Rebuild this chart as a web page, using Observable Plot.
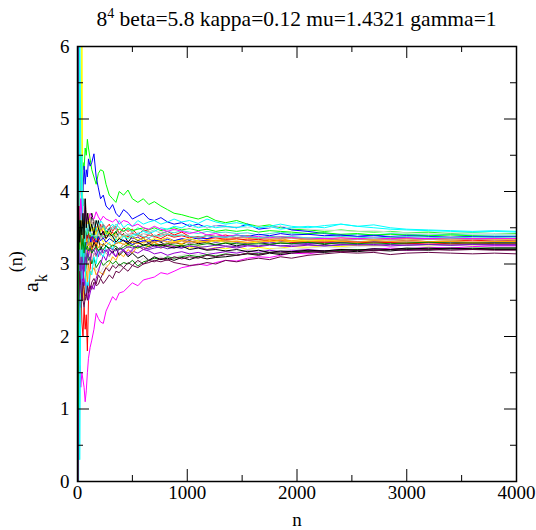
<!DOCTYPE html>
<html><head><meta charset="utf-8">
<script src="https://cdn.jsdelivr.net/npm/d3@7"></script>
<script src="https://cdn.jsdelivr.net/npm/@observablehq/plot@0.6"></script>
<style>body{margin:0;background:#fff} #chart svg, #chart svg text, #chart svg tspan{font-family:"Liberation Serif" !important}</style>
</head><body><div id="chart"></div>
<script>
const N = [0,5,10,15,20,30,40,50,60,70, 80,90,100,115,130,150,170,190,210,235, 260,290,320,350,380,420,460,500,550,600, 650,700,760,820,880,950,1020,1100,1180,1260, 1350,1450,1550,1650,1750,1850,1950,2100,2250,2400, 2550,2700,2850,3000,3200,3400,3600,3800,4000];

const s00 = [6.5,2.0,4.5,3.2,3.0,3.8,3.3,3.6,3.2,3.7, 3.5,3.4,3.65,3.45,3.7,3.55,3.4,3.6,3.45,3.55, 3.4,3.5,3.38,3.45,3.35,3.42,3.3,3.38,3.32,3.36, 3.28,3.33,3.3,3.25,3.3,3.27,3.32,3.28,3.3,3.26, 3.29,3.25,3.28,3.3,3.27,3.29,3.28,3.3,3.27,3.3, 3.29,3.31,3.3,3.28,3.3,3.31,3.29,3.3,3.3];
const s01 = [0,5.5,1.6,2.6,2.3,2.8,2.2,2.0,2.4,2.1, 2.3,1.8,2.5,2.9,3.3,3.5,3.2,3.45,3.55,3.4, 3.5,3.55,3.45,3.52,3.42,3.5,3.45,3.48,3.4,3.47, 3.45,3.38,3.42,3.45,3.4,3.44,3.38,3.35,3.4,3.38, 3.4,3.36,3.39,3.35,3.38,3.37,3.36,3.34,3.35,3.33, 3.35,3.33,3.34,3.32,3.34,3.33,3.32,3.33,3.32];
const s02 = [7,3.0,4.0,4.3,4.1,4.5,4.2,4.4,4.3,4.6, 4.5,4.72,4.6,4.45,4.3,4.2,4.1,4.25,4.3,4.28, 4.1,3.95,3.9,3.85,4.0,3.95,4.02,3.9,3.85,3.9, 3.82,3.86,3.8,3.75,3.7,3.68,3.65,3.62,3.66,3.6, 3.57,3.6,3.55,3.52,3.54,3.5,3.48,3.47,3.45,3.47, 3.45,3.44,3.45,3.43,3.44,3.42,3.43,3.42,3.42];
const s03 = [6.2,1.0,3.5,3.9,4.3,3.8,4.2,4.0,4.35,4.1, 4.3,4.2,4.45,4.35,4.4,4.52,4.2,4.05,3.9,3.95, 3.8,3.75,3.82,3.7,3.65,3.75,3.7,3.62,3.66,3.7, 3.62,3.6,3.64,3.58,3.55,3.57,3.52,3.55,3.5,3.53, 3.52,3.5,3.55,3.48,3.5,3.52,3.47,3.45,3.42,3.4, 3.38,3.4,3.37,3.36,3.35,3.36,3.35,3.36,3.35];
const s04 = [5.8,0.5,2.5,3.0,2.8,3.3,6.5,3.0,3.4,3.2, 3.0,3.3,3.1,3.4,3.25,3.5,3.3,3.55,3.4,3.3, 3.35,3.45,3.3,3.38,3.28,3.33,3.25,3.3,3.22,3.28, 3.25,3.3,3.22,3.26,3.24,3.27,3.22,3.25,3.2,3.23, 3.21,3.24,3.2,3.23,3.21,3.22,3.24,3.23,3.25,3.24, 3.26,3.25,3.27,3.26,3.25,3.27,3.26,3.27,3.26];
const s05 = [4,6.2,3.5,3.9,3.6,3.3,3.1,3.0,2.8,3.0, 2.9,3.05,2.95,3.1,3.0,3.15,3.1,3.2,3.12,3.18, 3.15,3.1,3.2,3.25,3.2,3.28,3.22,3.26,3.3,3.25, 3.28,3.3,3.26,3.3,3.28,3.32,3.28,3.3,3.33,3.3, 3.32,3.3,3.33,3.31,3.34,3.32,3.3,3.32,3.31,3.33, 3.31,3.3,3.32,3.31,3.3,3.31,3.3,3.31,3.3];
const s06 = [2,6,4.0,3.9,4.0,3.5,3.2,3.0,2.9,2.8, 2.85,2.95,2.8,2.9,2.95,3.0,2.9,2.95,2.88,2.95, 3.0,2.92,2.96,3.0,2.95,3.02,3.0,3.05,3.02,3.08, 3.05,3.08,3.1,3.06,3.1,3.12,3.15,3.12,3.16,3.14, 3.18,3.16,3.2,3.18,3.2,3.22,3.2,3.22,3.24,3.22, 3.24,3.25,3.24,3.26,3.25,3.26,3.25,3.26,3.26];
const s07 = [6.5,0,2.5,2.7,2.4,2.5,2.9,2.7,3.1,3.3, 3.0,3.2,3.1,3.25,3.15,3.3,3.2,3.1,3.22,3.15, 3.2,3.12,3.18,3.1,3.15,3.2,3.12,3.18,3.15,3.2, 3.18,3.14,3.16,3.12,3.15,3.17,3.14,3.16,3.13,3.15, 3.17,3.15,3.18,3.16,3.19,3.17,3.18,3.2,3.18,3.2, 3.19,3.21,3.2,3.19,3.2,3.21,3.2,3.2,3.2];
const s08 = [6.5,0,6.5,0.5,6.5,4.5,2.8,3.8,3.2,3.6, 3.4,3.5,3.3,3.45,3.35,3.4,3.5,3.45,3.6,3.55, 3.45,3.5,3.55,3.48,3.6,3.5,3.55,3.52,3.6,3.55, 3.58,3.6,3.55,3.58,3.62,3.58,3.6,3.56,3.62,3.58, 3.55,3.57,3.54,3.5,3.52,3.55,3.52,3.5,3.53,3.55, 3.52,3.54,3.5,3.48,3.47,3.46,3.45,3.46,3.45];
const s09 = [5,0,1.5,1.2,1.6,1.3,1.5,1.4,1.3,1.1, 1.25,1.5,1.7,1.85,1.95,2.1,2.32,2.25,2.2,2.18, 2.35,2.45,2.55,2.5,2.6,2.62,2.68,2.74,2.7,2.78, 2.8,2.82,2.88,2.86,2.9,2.95,2.97,3.0,2.98,3.02, 3.05,3.04,3.08,3.1,3.09,3.12,3.15,3.14,3.17,3.2, 3.19,3.2,3.22,3.21,3.23,3.22,3.24,3.25,3.25];
const s10 = [3,6.5,2.0,2.5,2.2,2.6,2.5,2.7,2.5,2.8, 2.9,2.75,3.0,2.85,2.9,2.95,2.85,2.9,2.88,2.85, 2.95,3.0,3.1,3.05,3.15,3.1,3.2,3.15,3.25,3.2, 3.25,3.3,3.25,3.28,3.3,3.28,3.32,3.3,3.34,3.32, 3.35,3.33,3.35,3.36,3.34,3.35,3.32,3.35,3.34,3.36, 3.35,3.34,3.36,3.35,3.34,3.36,3.35,3.35,3.35];
const s11 = [6.5,1,3.0,3.4,3.8,4.0,3.6,3.9,3.5,3.7, 3.5,3.6,3.4,3.5,3.3,3.45,3.4,3.5,3.35,3.45, 3.4,3.45,3.38,3.42,3.35,3.4,3.38,3.35,3.37,3.32, 3.35,3.3,3.33,3.36,3.32,3.34,3.3,3.33,3.32,3.3, 3.32,3.3,3.28,3.3,3.29,3.31,3.3,3.28,3.3,3.29, 3.3,3.31,3.3,3.29,3.3,3.3,3.29,3.3,3.3];
const s12 = [0,5,2.0,2.3,2.5,2.4,2.6,2.5,2.4,2.55, 2.6,2.5,2.62,2.7,2.65,2.75,2.7,2.72,2.8,2.73, 2.78,2.85,2.8,2.9,2.88,2.95,2.9,2.98,2.95,3.0, 3.02,3.05,3.03,3.06,3.02,3.0,2.98,2.99,3.02,3.0, 3.05,3.03,3.06,3.08,3.06,3.1,3.08,3.12,3.14,3.16, 3.15,3.16,3.13,3.15,3.16,3.15,3.14,3.15,3.14];
const s13 = [5,2,4.5,3.8,4.2,3.5,3.7,3.9,3.6,3.75, 3.5,3.65,3.6,3.55,3.45,3.5,3.6,3.55,3.48,3.52, 3.45,3.5,3.48,3.55,3.5,3.45,3.48,3.44,3.5,3.46, 3.44,3.47,3.42,3.45,3.43,3.46,3.44,3.42,3.45,3.43, 3.44,3.42,3.43,3.4,3.42,3.44,3.42,3.41,3.43,3.4, 3.41,3.4,3.42,3.41,3.4,3.41,3.4,3.4,3.4];
const s14 = [6.5,0.5,2.8,3.2,3.0,2.8,3.0,3.2,3.1,2.9, 3.0,3.15,3.05,3.1,3.0,3.08,2.95,3.0,3.05,2.98, 3.02,3.05,3.0,3.04,2.98,3.02,3.0,3.05,2.97,3.03, 3.05,3.08,3.06,3.1,3.08,3.1,3.12,3.1,3.13,3.11, 3.14,3.12,3.15,3.14,3.16,3.15,3.17,3.18,3.17,3.19, 3.2,3.19,3.2,3.21,3.22,3.21,3.22,3.22,3.22];
const s15 = [6.5,3.5,4.0,3.5,3.7,3.4,3.5,3.3,3.6,3.4, 3.45,3.3,3.5,3.35,3.2,3.3,3.25,3.35,3.2,3.28, 3.25,3.2,3.15,3.22,3.12,3.18,3.1,3.15,3.08,3.12, 3.05,3.1,3.06,3.08,3.05,3.09,3.06,3.1,3.07,3.09, 3.1,3.12,3.14,3.12,3.15,3.13,3.15,3.17,3.16,3.18, 3.17,3.19,3.18,3.2,3.19,3.21,3.2,3.2,3.2];
const s16 = [4,6.5,3.5,3.1,3.4,3.6,3.3,3.5,3.25,3.45, 3.35,3.3,3.45,3.35,3.4,3.3,3.38,3.32,3.42,3.35, 3.4,3.38,3.44,3.36,3.42,3.4,3.38,3.42,3.4,3.36, 3.4,3.38,3.35,3.4,3.37,3.39,3.36,3.38,3.35,3.36, 3.34,3.35,3.33,3.34,3.32,3.33,3.3,3.31,3.3,3.32, 3.3,3.29,3.3,3.28,3.29,3.28,3.29,3.28,3.28];
const s17 = [0,6,3.2,3.5,3.3,3.6,3.4,3.55,3.45,3.35, 3.5,3.4,3.45,3.38,3.42,3.35,3.4,3.36,3.42,3.38, 3.45,3.42,3.4,3.45,3.48,3.45,3.5,3.46,3.48,3.5, 3.47,3.5,3.46,3.48,3.5,3.47,3.49,3.46,3.48,3.45, 3.47,3.45,3.47,3.44,3.46,3.45,3.44,3.42,3.43,3.41, 3.42,3.4,3.41,3.4,3.39,3.4,3.39,3.38,3.38];
const s18 = [6.5,2,3.2,3.6,3.4,3.2,3.35,3.5,3.3,3.2, 3.28,3.35,3.25,3.3,3.4,3.35,3.3,3.38,3.32,3.36, 3.3,3.35,3.32,3.28,3.3,3.33,3.3,3.27,3.3,3.32, 3.3,3.33,3.31,3.34,3.32,3.35,3.33,3.36,3.35,3.38, 3.37,3.4,3.38,3.41,3.39,3.42,3.4,3.41,3.39,3.4, 3.38,3.39,3.38,3.39,3.38,3.37,3.38,3.38,3.38];
const s19 = [6.5,0,3.0,3.6,3.2,3.5,3.9,3.6,3.7,3.55, 3.6,3.5,3.7,3.55,3.45,3.5,3.4,3.55,3.45,3.5, 3.4,3.45,3.38,3.42,3.35,3.4,3.36,3.38,3.33,3.35, 3.32,3.35,3.33,3.36,3.31,3.33,3.35,3.32,3.3,3.32, 3.3,3.31,3.29,3.3,3.32,3.3,3.31,3.33,3.32,3.33, 3.34,3.33,3.34,3.33,3.34,3.33,3.34,3.34,3.34];
const s20 = [6.5,1,3.8,4.1,3.9,4.0,3.85,3.7,3.8,3.9, 3.75,3.6,3.7,3.65,3.55,3.6,3.5,3.55,3.48,3.55, 3.5,3.45,3.52,3.48,3.42,3.46,3.4,3.44,3.38,3.42, 3.4,3.37,3.4,3.42,3.38,3.4,3.38,3.36,3.39,3.37, 3.38,3.36,3.37,3.35,3.36,3.35,3.36,3.34,3.35,3.33, 3.34,3.33,3.34,3.33,3.34,3.33,3.34,3.33,3.33];
const s21 = [6.5,2,4.3,3.8,4.0,3.9,3.7,3.6,3.8,3.5, 3.45,3.55,3.5,3.4,3.45,3.42,3.38,3.45,3.35,3.4, 3.36,3.38,3.35,3.4,3.37,3.4,3.42,3.4,3.44,3.42, 3.44,3.46,3.44,3.48,3.46,3.5,3.48,3.52,3.5,3.53, 3.5,3.52,3.5,3.53,3.5,3.52,3.5,3.48,3.47,3.46, 3.45,3.46,3.44,3.43,3.42,3.43,3.42,3.42,3.41];
const s22 = [6.5,0.5,2.7,3.0,2.6,2.8,3.0,2.9,2.7,2.8, 2.6,2.75,2.5,2.6,2.7,2.65,2.8,2.9,3.0,3.12, 3.05,3.2,3.15,3.1,3.22,3.18,3.15,3.2,3.25,3.2, 3.22,3.25,3.22,3.26,3.24,3.22,3.25,3.23,3.2,3.22, 3.24,3.22,3.25,3.24,3.26,3.25,3.24,3.26,3.25,3.27, 3.26,3.27,3.25,3.26,3.27,3.26,3.27,3.26,3.26];
const s23 = [0,6.5,0,6.5,0.3,2.5,4.5,3.0,3.5,3.0, 2.6,2.75,2.7,2.9,2.85,3.1,3.0,3.2,3.15,3.1, 3.25,3.3,3.2,3.35,3.3,3.38,3.35,3.4,3.42,3.45, 3.42,3.45,3.5,3.48,3.52,3.5,3.55,3.5,3.53,3.5, 3.52,3.5,3.53,3.5,3.52,3.48,3.5,3.52,3.5,3.55, 3.52,3.5,3.48,3.47,3.46,3.45,3.44,3.45,3.44];
const s24 = [6.5,1,3.5,3.8,3.6,3.9,3.7,3.5,3.6,3.8, 3.55,3.65,3.6,3.7,3.65,3.62,3.72,3.65,3.6,3.66, 3.62,3.6,3.58,3.62,3.55,3.6,3.58,3.52,3.55,3.5, 3.48,3.52,3.48,3.45,3.48,3.45,3.42,3.45,3.4,3.42, 3.38,3.4,3.37,3.38,3.36,3.38,3.37,3.36,3.35,3.36, 3.35,3.36,3.35,3.36,3.35,3.36,3.35,3.35,3.35];
const s25 = [6.5,2,4.0,3.3,3.0,3.4,3.6,3.3,3.5,3.4, 3.3,3.35,3.25,3.3,3.2,3.25,3.3,3.22,3.28,3.25, 3.3,3.27,3.25,3.28,3.3,3.27,3.29,3.3,3.28,3.3, 3.31,3.3,3.32,3.31,3.3,3.32,3.31,3.3,3.31,3.33, 3.32,3.31,3.3,3.32,3.31,3.33,3.32,3.31,3.32,3.31, 3.3,3.32,3.31,3.3,3.31,3.31,3.3,3.31,3.31];
const s26 = [0,6.5,2.2,2.8,3.2,2.9,3.1,3.0,2.9,3.1, 3.0,3.15,3.1,3.05,3.15,3.2,3.12,3.18,3.15,3.2, 3.17,3.22,3.2,3.18,3.22,3.2,3.24,3.22,3.25,3.23, 3.2,3.22,3.24,3.21,3.23,3.22,3.25,3.23,3.24,3.26, 3.25,3.24,3.26,3.25,3.27,3.25,3.26,3.27,3.25,3.26, 3.27,3.26,3.27,3.26,3.27,3.26,3.27,3.27,3.27];
const s27 = [6.5,0,2.4,2.6,2.9,2.7,2.5,2.75,2.65,2.5, 2.55,2.7,2.6,2.65,2.75,2.8,2.72,2.85,2.8,2.88, 2.95,2.9,2.98,2.94,3.0,2.95,3.02,2.98,3.05,3.0, 3.05,3.03,3.08,3.05,3.1,3.07,3.1,3.08,3.12,3.1, 3.13,3.12,3.15,3.13,3.16,3.15,3.17,3.16,3.18,3.17, 3.19,3.18,3.2,3.19,3.2,3.19,3.2,3.19,3.19];
const s28 = [6.5,2,3.0,3.6,3.3,3.1,3.4,3.6,3.45,3.3, 3.5,3.4,3.55,3.45,3.38,3.42,3.35,3.45,3.4,3.36, 3.42,3.38,3.4,3.36,3.42,3.38,3.4,3.37,3.41,3.38, 3.36,3.4,3.38,3.41,3.39,3.4,3.38,3.37,3.39,3.38, 3.37,3.39,3.38,3.36,3.38,3.37,3.38,3.36,3.37,3.38, 3.37,3.36,3.37,3.38,3.37,3.36,3.37,3.37,3.37];
const s29 = [6.5,1,3.5,3.2,3.6,3.4,3.2,3.35,3.15,3.3, 3.2,3.25,3.18,3.22,3.15,3.2,3.25,3.18,3.22,3.2, 3.25,3.22,3.26,3.24,3.2,3.23,3.27,3.25,3.22,3.26, 3.24,3.27,3.25,3.28,3.26,3.25,3.27,3.26,3.28,3.27, 3.29,3.28,3.27,3.28,3.27,3.29,3.28,3.3,3.28,3.29, 3.28,3.29,3.28,3.29,3.3,3.29,3.29,3.29,3.29];
const s30 = [6.5,3,3.8,3.5,3.3,3.6,3.4,3.7,3.35,3.9, 3.5,3.7,3.6,3.45,3.55,3.4,3.6,3.5,3.4,3.45, 3.35,3.42,3.38,3.3,3.35,3.32,3.28,3.32,3.3,3.26, 3.28,3.25,3.27,3.24,3.22,3.25,3.2,3.22,3.19,3.2, 3.18,3.2,3.17,3.19,3.16,3.18,3.17,3.19,3.18,3.2, 3.19,3.21,3.2,3.22,3.21,3.22,3.21,3.22,3.22];

const seriesValues = [s00,s01,s02,s03,s04,s05,s06,s07,s08,s09,s10,s11,s12,s13,s14,s15,s16,s17,s18,s19,s20,s21,s22,s23,s24,s25,s26,s27,s28,s29,s30];
const graceColors = ["#000000","#ff0000","#00ff00","#0000ff","#ffff00","#bc8f8f","#dcdcdc","#9400d3","#00ffff","#ff00ff","#ffa500","#7221bc","#670748","#40e0d0","#008b00"];
const seriesColors = seriesValues.map((_, i) => graceColors[i % graceColors.length]);

const xTicks = [0,1000,2000,3000,4000];
const xMinor = [500,1500,2500,3500];
const yTicks = [0,1,2,3,4,5,6];
const yMinor = [0.5,1.5,2.5,3.5,4.5,5.5];

const titleMain = "8";
const titleSup = "4";
const titleRest = " beta=5.8 kappa=0.12 mu=1.4321 gamma=1";

const rows = seriesValues.flatMap((vals, i) => vals.map((v, j) => ({set: i, n: N[j], a: v})));

const W = 536, H = 530, mL = 77, mR = 20, mT = 46, mB = 49;
const pw = W - mL - mR, ph = H - mT - mB;
const serif = "Liberation Serif";

const chart = Plot.plot({
  width: W, height: H,
  marginLeft: mL, marginRight: mR, marginTop: mT, marginBottom: mB,
  x: {domain: [0, 4000]},
  y: {domain: [0, 6]},
  color: {type: "ordinal", domain: seriesValues.map((_, i) => i), range: seriesColors},
  style: {fontFamily: serif, fontSize: "20px", background: "white", color: "black"},
  marks: [
    Plot.line(rows, {x: "n", y: "a", z: "set", stroke: "set", strokeWidth: 1, clip: true}),
    Plot.tickX(xTicks, {x: d => d, insetTop: ph - 12, stroke: "black"}),
    Plot.tickX(xMinor, {x: d => d, insetTop: ph - 6, stroke: "black"}),
    Plot.tickX(xTicks, {x: d => d, insetBottom: ph - 12, stroke: "black"}),
    Plot.tickX(xMinor, {x: d => d, insetBottom: ph - 6, stroke: "black"}),
    Plot.tickY(yTicks, {y: d => d, insetRight: pw - 12, stroke: "black"}),
    Plot.tickY(yMinor, {y: d => d, insetRight: pw - 6, stroke: "black"}),
    Plot.tickY(yTicks, {y: d => d, insetLeft: pw - 12, stroke: "black"}),
    Plot.tickY(yMinor, {y: d => d, insetLeft: pw - 6, stroke: "black"}),
    Plot.frame({stroke: "black", strokeWidth: 1.5}),
    Plot.axisX(xTicks, {anchor: "bottom", tickSize: 0, tickPadding: 4, tickFormat: d => String(d), fontFamily: serif,
      label: "n", labelAnchor: "center", labelArrow: "none", labelOffset: 44, fontSize: 19}),
    Plot.axisY(yTicks, {anchor: "left", tickSize: 0, tickPadding: 8, tickFormat: d => String(d), fontFamily: serif, label: null, fontSize: 19})
  ]
});

const svg = d3.select(chart);
svg.attr("font-family", serif);
const t = svg.append("text")
  .attr("x", mL + pw / 2).attr("y", 26)
  .attr("text-anchor", "middle")
  .attr("font-family", serif)
  .attr("font-size", 21.5).attr("fill", "black");
t.append("tspan").text(titleMain);
t.append("tspan").attr("dy", -8).attr("font-size", 14).text(titleSup);
t.append("tspan").attr("dy", 8).text(titleRest);

const yl = svg.append("text")
  .attr("transform", "translate(38,292) rotate(-90)")
  .attr("text-anchor", "start")
  .attr("font-family", serif)
  .attr("font-size", 22).attr("fill", "black");
yl.append("tspan").text("a");
yl.append("tspan").attr("dy", 9).attr("font-size", 16).text("k");
yl.append("tspan").attr("dx", 2).attr("dy", -25).attr("font-size", 18).text("(n)");

svg.selectAll("text, tspan").attr("font-family", serif).style("font-family", serif);

document.getElementById("chart").append(chart);
</script>
</body></html>
